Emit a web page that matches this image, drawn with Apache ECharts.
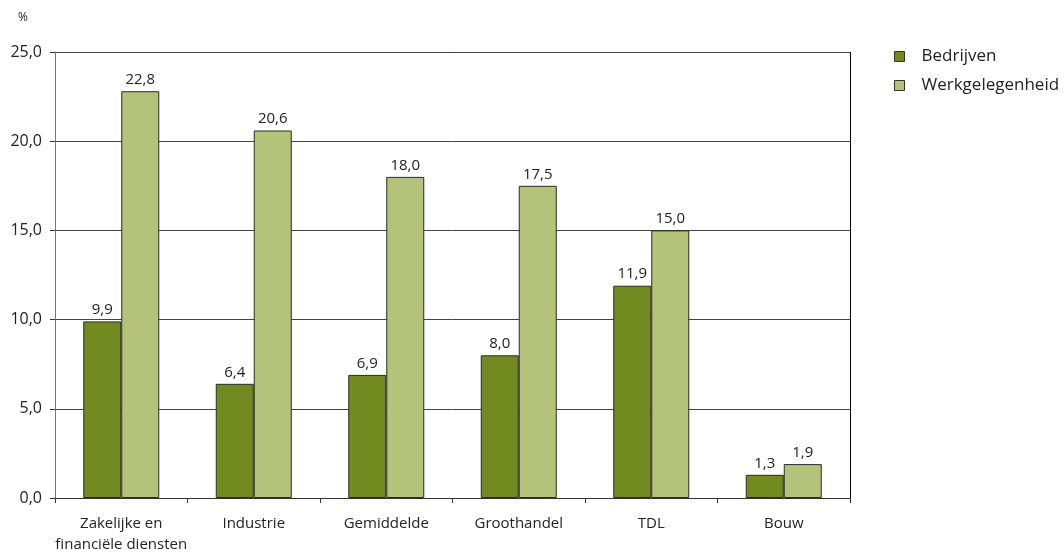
<!DOCTYPE html>
<html>
<head>
<meta charset="utf-8">
<script src="https://cdn.jsdelivr.net/npm/echarts@6/dist/echarts.min.js"></script>
<style>
  html, body { margin: 0; padding: 0; background: #fff; }
  #chart { width: 1064px; height: 554px; }
</style>
</head>
<body>
<div id="chart"></div>
<script>
// Sectors and shares (%)
const categories = ['Zakelijke en\nfinanciële diensten', 'Industrie', 'Gemiddelde', 'Groothandel', 'TDL', 'Bouw'];
const bedrijven = [9.9, 6.4, 6.9, 8.0, 11.9, 1.3];
const werkgelegenheid = [22.8, 20.6, 18.0, 17.5, 15.0, 1.9];
const seriesNames = ['Bedrijven', 'Werkgelegenheid'];

const FONT = '"Open Sans", Lato, sans-serif';
const fmt = v => v.toFixed(1).replace('.', ',');

const chart = echarts.init(document.getElementById('chart'));

const labelStyle = {
  show: true,
  position: 'top',
  distance: 4,
  color: '#222',
  fontFamily: FONT,
  fontSize: 15,
  formatter: p => fmt(p.value)
};

chart.setOption({
  animation: false,
  textStyle: { fontFamily: FONT },
  graphic: [
    { type: 'text', left: 18, top: 12, style: { text: '%', fontFamily: FONT, fontSize: 12, fill: '#222' } },
    // plot frame: top and right edges
    { type: 'line', shape: { x1: 55, y1: 52.5, x2: 850.5, y2: 52.5 }, style: { stroke: '#000', lineWidth: 1 } },
    { type: 'line', shape: { x1: 850.5, y1: 52, x2: 850.5, y2: 498 }, style: { stroke: '#000', lineWidth: 1 } }
  ],
  legend: {
    orient: 'vertical',
    left: 889,
    top: 43,
    itemWidth: 10,
    itemHeight: 10,
    itemGap: 12,
    icon: 'rect',
    textStyle: { fontFamily: FONT, fontSize: 17, color: '#222', padding: [0, 0, 0, 12] },
    data: seriesNames.map(n => ({ name: n, itemStyle: { borderColor: '#333', borderWidth: 1 } }))
  },
  grid: { left: 55, right: 214, top: 52, bottom: 56, outerBoundsMode: 'none' },
  xAxis: {
    type: 'category',
    data: categories,
    axisLine: { lineStyle: { color: '#333' } },
    axisTick: { show: true, length: 5, alignWithLabel: false, lineStyle: { color: '#333' } },
    axisLabel: { color: '#222', fontFamily: FONT, fontSize: 15, margin: 15, lineHeight: 21, interval: 0 }
  },
  yAxis: {
    type: 'value',
    min: 0,
    max: 25,
    interval: 5,
    axisLine: { show: true, lineStyle: { color: '#777' } },
    axisTick: { show: true, length: 5, inside: false, lineStyle: { color: '#333' } },
    axisLabel: { color: '#222', fontFamily: FONT, fontSize: 16, margin: 13, formatter: v => fmt(v) },
    splitLine: { lineStyle: { color: '#444', width: 1 } }
  },
  series: [
    {
      name: seriesNames[0],
      type: 'bar',
      data: bedrijven,
      barWidth: 38,
      barGap: '0%',
      itemStyle: { color: '#728a20', borderColor: '#2a2a2a', borderWidth: 1 },
      label: labelStyle
    },
    {
      name: seriesNames[1],
      type: 'bar',
      data: werkgelegenheid,
      barWidth: 38,
      barGap: '0%',
      itemStyle: { color: '#b5c27a', borderColor: '#2a2a2a', borderWidth: 1 },
      label: labelStyle
    }
  ]
});
</script>
</body>
</html>
